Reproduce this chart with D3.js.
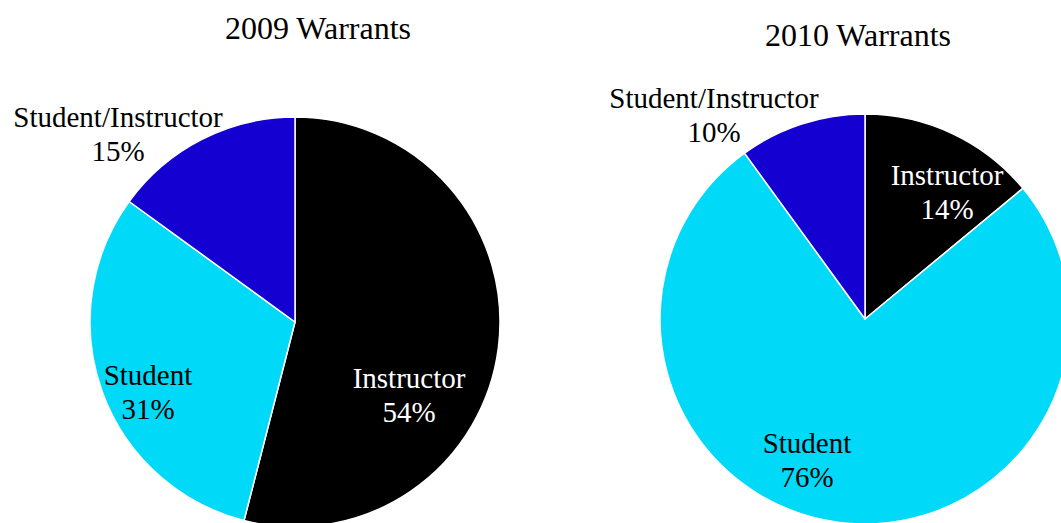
<!DOCTYPE html>
<html lang="en">
<head>
    <meta charset="UTF-8">
    <title>Warrants 2009 / 2010</title>
    <script src="https://d3js.org/d3.v7.min.js"></script>
    <style>
        html, body { margin: 0; padding: 0; background: #fff; }
        svg { display: block; }
    </style>
</head>
<body>
    <svg id="chart" width="1061" height="523"></svg>

    <script>
        // Data
        const categories = ['Instructor', 'Student', 'Student/Instructor'];
        const values2009 = [54, 31, 15];
        const values2010 = [14, 76, 10];
        const titles = ['2009 Warrants', '2010 Warrants'];

        const FONT = '"Liberation Serif", "Times New Roman", Tinos, serif';

        // Colours per category
        const color = d3.scaleOrdinal()
            .domain(categories)
            .range(['#000000', '#00D9F7', '#1400D1']);
        const labelColor = { 'Instructor': '#fff', 'Student': '#000', 'Student/Instructor': '#000' };

        // Layout of each pie (center, radius, title spot, label offsets from center)
        const layouts = [
            { cx: 295, cy: 322, r: 205, titleX: 318, titleY: 39,
              labels: { 'Instructor': [114, 66], 'Student': [-147, 63], 'Student/Instructor': [-177, -195] } },
            { cx: 865, cy: 319, r: 205, titleX: 858, titleY: 46,
              labels: { 'Instructor': [82, -134], 'Student': [-58, 134], 'Student/Instructor': [-151, -211] } }
        ];

        const svg = d3.select('#chart');
        const pie = d3.pie().sort(null).value(d => d.value);

        [values2009, values2010].forEach((vals, i) => {
            const lay = layouts[i];
            const data = categories.map((c, k) => ({ cat: c, value: vals[k] }));
            const arc = d3.arc().innerRadius(0).outerRadius(lay.r);

            const g = svg.append('g')
                .attr('transform', `translate(${lay.cx},${lay.cy})`);

            g.selectAll('path')
                .data(pie(data))
                .enter().append('path')
                .attr('d', arc)
                .attr('fill', d => color(d.data.cat))
                .attr('stroke', '#fff')
                .attr('stroke-width', 1.5)
                .attr('stroke-linejoin', 'round');

            // slice labels: name + percent
            const lbl = g.selectAll('text.lbl')
                .data(data)
                .enter().append('text')
                .attr('class', 'lbl')
                .attr('text-anchor', 'middle')
                .style('font-family', FONT)
                .style('font-size', '29px')
                .attr('fill', d => labelColor[d.cat])
                .attr('transform', d => `translate(${lay.labels[d.cat][0]},${lay.labels[d.cat][1]})`);
            lbl.append('tspan').attr('x', 0).attr('y', 0).text(d => d.cat);
            lbl.append('tspan').attr('x', 0).attr('y', 34).text(d => d.value + '%');

            svg.append('text')
                .attr('x', lay.titleX)
                .attr('y', lay.titleY)
                .attr('text-anchor', 'middle')
                .style('font-family', FONT)
                .style('font-size', '32px')
                .attr('fill', '#000')
                .text(titles[i]);
        });
    </script>
</body>
</html>
